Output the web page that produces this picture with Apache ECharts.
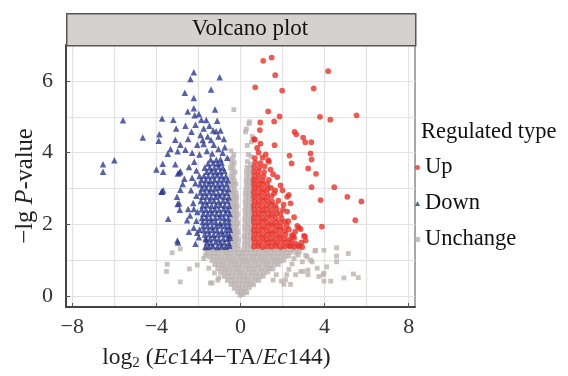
<!DOCTYPE html>
<html>
<head>
<meta charset="utf-8">
<script src="https://cdn.jsdelivr.net/npm/echarts@6/dist/echarts.min.js"></script>
<style>
  html, body { margin: 0; padding: 0; background: #fff; }
  #chart { width: 568px; height: 376px; }
</style>
</head>
<body>
<div id="chart"></div>
<script>
// tick labels
const xTicks = [-8, -4, 0, 4, 8]
const yTicks = [0, 2, 4, 6]
const xGridLines = [-8, -6, -4, -2, 0, 2, 4, 6, 8]
const yGridLines = [0, 1, 2, 3, 4, 5, 6]

// Down-regulated (log2 FC, -lg P)
const downPoints = [
  [-1.52,1.38],[-1.31,1.40],[-1.10,1.37],[-0.90,1.39],[-0.70,1.38],[-0.53,1.41],
  [-1.60,1.50],[-1.40,1.48],[-1.18,1.51],[-0.97,1.49],[-0.77,1.50],[-0.56,1.48],
  [-1.66,1.61],[-1.45,1.60],[-1.24,1.62],[-1.03,1.59],[-0.82,1.61],[-0.61,1.60],[-0.50,1.63],
  [-1.70,1.72],[-1.49,1.73],[-1.28,1.71],[-1.07,1.72],[-0.86,1.74],[-0.66,1.72],[-0.52,1.70],
  [-1.74,1.84],[-1.53,1.83],[-1.32,1.85],[-1.11,1.83],[-0.90,1.82],[-0.69,1.84],[-0.50,1.85],
  [-1.78,1.95],[-1.57,1.96],[-1.36,1.94],[-1.15,1.95],[-0.94,1.97],[-0.73,1.95],[-0.54,1.94],
  [-1.80,2.07],[-1.60,2.06],[-1.39,2.08],[-1.18,2.06],[-0.97,2.05],[-0.76,2.07],[-0.56,2.06],
  [-1.83,2.18],[-1.62,2.19],[-1.41,2.17],[-1.20,2.18],[-0.99,2.20],[-0.78,2.18],[-0.58,2.17],
  [-1.77,2.30],[-1.56,2.29],[-1.35,2.31],[-1.14,2.30],[-0.93,2.29],[-0.72,2.31],[-0.52,2.30],
  [-1.85,2.42],[-1.64,2.41],[-1.43,2.40],[-1.22,2.42],[-1.01,2.41],[-0.80,2.43],[-0.60,2.41],
  [-1.80,2.53],[-1.59,2.54],[-1.38,2.52],[-1.17,2.53],[-0.96,2.55],[-0.75,2.53],[-0.54,2.52],
  [-1.88,2.65],[-1.67,2.64],[-1.46,2.66],[-1.25,2.65],[-1.04,2.64],[-0.83,2.66],[-0.62,2.65],
  [-1.82,2.77],[-1.61,2.78],[-1.40,2.76],[-1.19,2.77],[-0.98,2.79],[-0.77,2.77],[-0.56,2.76],
  [-1.90,2.89],[-1.69,2.88],[-1.48,2.90],[-1.27,2.88],[-1.06,2.87],[-0.85,2.89],[-0.64,2.88],
  [-1.84,3.00],[-1.63,3.01],[-1.42,2.99],[-1.21,3.00],[-1.00,3.02],[-0.79,3.00],[-0.58,2.99],
  [-1.92,3.12],[-1.71,3.11],[-1.50,3.13],[-1.29,3.12],[-1.08,3.11],[-0.87,3.13],[-0.66,3.12],
  [-1.86,3.24],[-1.65,3.23],[-1.44,3.22],[-1.23,3.24],[-1.02,3.23],[-0.81,3.25],[-0.60,3.23],
  [-1.95,3.35],[-1.74,3.36],[-1.53,3.34],[-1.32,3.35],[-1.11,3.37],[-0.90,3.35],[-0.69,3.34],
  [-1.60,3.47],[-1.39,3.48],[-1.18,3.46],[-0.97,3.47],[-0.76,3.49],
  [-1.70,3.58],[-1.46,3.59],[-1.25,3.57],[-1.04,3.60],[-0.84,3.58],
  [-1.55,3.70],[-1.30,3.71],[-1.08,3.69],[-0.90,3.72],
  [-1.42,3.81],[-1.15,3.80],[-0.95,3.82],
  [-6.54,3.68],[-6.54,3.47],[-6.00,3.79],[-5.59,4.90],[-4.65,4.42],
  [-3.73,4.95],[-3.20,4.92],[-3.86,4.51],[-3.89,4.33],[-3.06,4.67],[-3.46,3.97],[-3.33,4.10],[-3.10,4.36],
  [-3.70,3.69],[-4.00,3.53],[-3.68,3.47],[-3.10,3.68],[-3.73,2.91],[-3.68,2.95],[-3.02,2.77],[-2.99,2.57],
  [-2.22,6.24],[-2.38,6.05],[-0.99,6.10],[-1.40,5.76],[-2.65,5.67],[-2.22,5.52],[-2.51,5.15],[-2.22,5.24],
  [-1.98,5.08],[-1.21,5.20],[-2.18,5.04],[-1.86,4.92],[-1.63,4.91],[-1.11,4.89],[-2.14,4.78],[-1.48,4.75],
  [-1.75,4.67],[-1.30,4.62],[-2.62,4.75],[-2.33,4.58],[-0.95,4.62],[-1.16,4.60],[-2.49,4.38],[-1.90,4.49],
  [-1.56,4.45],[-0.79,4.38],[-2.86,4.22],[-2.99,4.04],[-2.62,4.08],[-2.30,4.00],[-2.06,4.22],[-1.75,4.24],
  [-1.27,4.22],[-0.63,3.86],[-2.90,3.45],[-2.98,3.42],[-2.86,3.48],[-2.67,3.27],[-2.75,3.13],[-2.86,2.97],
  [-3.76,2.91],[-2.92,2.59],[-2.49,2.43],[-2.89,2.41],[-2.22,2.43],[-3.44,2.16],[-2.54,2.12],[-2.22,1.91],
  [-2.06,1.77],[-1.98,1.64],[-2.98,1.50],[-2.14,1.46],[-1.67,1.37],[-1.63,1.58],[-3.00,1.55],
  [-1.95,3.95],[-1.60,4.05],[-1.35,3.98],[-1.05,4.10],[-0.85,4.00],[-1.80,4.35],[-1.40,4.35],[-1.05,4.45],
  [-0.75,4.15],[-2.20,3.75],[-2.45,3.60],[-2.10,3.50],[-2.30,3.30],[-2.15,3.15],[-2.35,2.95],[-2.10,2.80],
  [-2.25,2.60],[-2.05,2.35],[-2.40,2.25],[-2.10,2.10],[-1.95,1.85],[-2.45,1.80]
]

// Up-regulated
const upPoints = [
  [0.64,1.38],[0.85,1.40],[1.06,1.37],[1.27,1.39],[1.48,1.38],[1.69,1.40],[1.90,1.37],[2.11,1.39],[2.35,1.40],[2.55,1.38],[2.78,1.39],
  [0.66,1.50],[0.87,1.48],[1.08,1.51],[1.29,1.49],[1.50,1.50],[1.71,1.48],[1.92,1.51],[2.13,1.49],[2.40,1.52],[2.62,1.47],[2.90,1.50],
  [0.63,1.61],[0.84,1.60],[1.05,1.62],[1.26,1.59],[1.47,1.61],[1.68,1.60],[1.89,1.62],[2.10,1.60],[2.32,1.58],[2.55,1.63],
  [0.65,1.72],[0.86,1.73],[1.07,1.71],[1.28,1.72],[1.49,1.74],[1.70,1.72],[1.91,1.71],[2.15,1.73],[2.45,1.70],
  [0.63,1.84],[0.84,1.83],[1.05,1.85],[1.26,1.83],[1.47,1.82],[1.68,1.84],[1.89,1.85],[2.10,1.83],[2.30,1.86],
  [0.66,1.95],[0.87,1.96],[1.08,1.94],[1.29,1.95],[1.50,1.97],[1.71,1.95],[1.92,1.94],[2.20,1.96],
  [0.64,2.07],[0.85,2.06],[1.06,2.08],[1.27,2.06],[1.48,2.05],[1.69,2.07],[1.90,2.06],[2.12,2.08],
  [0.63,2.18],[0.84,2.19],[1.05,2.17],[1.26,2.18],[1.47,2.20],[1.68,2.18],[1.95,2.17],
  [0.66,2.30],[0.87,2.29],[1.08,2.31],[1.29,2.30],[1.50,2.29],[1.71,2.31],[1.90,2.30],
  [0.64,2.42],[0.85,2.41],[1.06,2.40],[1.27,2.42],[1.48,2.41],[1.72,2.43],[2.02,2.41],
  [0.63,2.53],[0.84,2.54],[1.05,2.52],[1.26,2.53],[1.47,2.55],[1.66,2.53],
  [0.66,2.65],[0.87,2.64],[1.08,2.66],[1.29,2.65],[1.50,2.64],[1.80,2.66],
  [0.64,2.77],[0.85,2.78],[1.06,2.76],[1.27,2.77],[1.48,2.79],
  [0.63,2.89],[0.84,2.88],[1.05,2.90],[1.26,2.88],[1.60,2.87],
  [0.66,3.00],[0.87,3.01],[1.08,2.99],[1.30,3.00],[1.45,3.02],
  [0.64,3.12],[0.85,3.11],[1.06,3.13],[1.27,3.12],
  [0.63,3.24],[0.84,3.23],[1.05,3.22],[1.35,3.24],
  [0.66,3.35],[0.87,3.36],[1.10,3.34],
  [0.64,3.47],[0.85,3.48],[1.12,3.46],
  [0.65,3.60],[0.90,3.59],
  [0.70,3.72],[0.95,3.71],
  [0.68,3.85],
  [1.08,6.56],[1.48,6.65],[1.65,6.16],[4.17,6.27],[0.70,5.82],[1.98,5.73],[3.48,5.79],[1.32,5.15],
  [1.86,5.01],[1.60,4.87],[0.94,4.84],[0.92,4.63],[3.78,5.00],[4.27,4.92],[5.52,5.04],[2.57,4.58],
  [2.65,4.51],[2.98,4.42],[3.08,4.29],[3.37,4.29],[0.65,4.38],[1.62,4.21],[0.79,4.13],[0.86,4.00],
  [1.05,3.86],[2.33,3.92],[3.33,3.98],[3.38,3.81],[2.43,3.70],[1.35,3.75],[3.22,3.56],[3.59,3.41],
  [1.43,3.53],[0.68,4.36],[1.32,3.79],[3.38,3.04],[4.46,3.04],[5.08,2.77],[5.75,2.64],[3.81,2.68],
  [5.46,2.12],[3.87,1.94],[2.30,2.82],[2.78,1.91],[3.06,1.67],[3.10,1.55],[2.79,1.41],[2.51,1.68],
  [2.35,1.41],[1.75,3.32],[1.90,3.09],[2.22,2.77],[2.38,2.59],[2.22,2.36],[2.27,2.09],[2.70,1.96],
  [2.86,1.87],[3.02,1.68],[2.94,1.37],[1.55,3.40],[1.20,3.95],[0.95,4.25],[1.15,3.62],[1.65,2.95],
  [2.05,2.55],[2.55,2.20],[2.60,1.80],[2.00,2.95]
]

// Unchanged
const unchangePoints = [
  [-0.02,0.03],[0.12,0.05],
  [-0.14,0.12],[0.04,0.11],[0.20,0.13],[0.30,0.10],
  [-0.30,0.22],[-0.12,0.23],[0.06,0.21],[0.24,0.22],[0.42,0.24],
  [-0.45,0.33],[-0.27,0.34],[-0.08,0.32],[0.10,0.33],[0.29,0.35],[0.47,0.33],[0.62,0.32],
  [-0.62,0.44],[-0.43,0.45],[-0.24,0.43],[-0.05,0.44],[0.14,0.46],[0.33,0.44],[0.52,0.43],[0.70,0.45],[0.86,0.44],
  [-0.78,0.55],[-0.60,0.56],[-0.41,0.54],[-0.22,0.55],[-0.03,0.57],[0.16,0.55],[0.35,0.54],[0.54,0.56],[0.73,0.55],[0.92,0.54],[1.08,0.56],
  [-0.95,0.66],[-0.76,0.67],[-0.57,0.65],[-0.38,0.66],[-0.19,0.68],[0.00,0.66],[0.19,0.65],[0.38,0.67],[0.57,0.66],[0.76,0.65],[0.95,0.67],[1.14,0.66],[1.30,0.68],
  [-1.08,0.77],[-0.89,0.78],[-0.70,0.76],[-0.51,0.77],[-0.32,0.79],[-0.13,0.77],[0.06,0.76],[0.25,0.78],[0.44,0.77],[0.63,0.76],[0.82,0.78],[1.01,0.77],[1.20,0.79],[1.39,0.77],[1.55,0.76],
  [-1.22,0.88],[-1.03,0.89],[-0.84,0.87],[-0.65,0.88],[-0.46,0.90],[-0.27,0.88],[-0.08,0.87],[0.11,0.89],[0.30,0.88],[0.49,0.87],[0.68,0.89],[0.87,0.88],[1.06,0.90],[1.25,0.88],[1.44,0.87],[1.63,0.89],[1.80,0.88],
  [-1.35,0.99],[-1.16,1.00],[-0.97,0.98],[-0.78,0.99],[-0.59,1.01],[-0.40,0.99],[-0.21,0.98],[-0.02,1.00],[0.17,0.99],[0.36,0.98],[0.55,1.00],[0.74,0.99],[0.93,1.01],[1.12,0.99],[1.31,0.98],[1.50,1.00],[1.69,0.99],[1.88,0.98],[2.05,1.00],
  [-1.48,1.10],[-1.29,1.11],[-1.10,1.09],[-0.91,1.10],[-0.72,1.12],[-0.53,1.10],[-0.34,1.09],[-0.15,1.11],[0.04,1.10],[0.23,1.09],[0.42,1.11],[0.61,1.10],[0.80,1.12],[0.99,1.10],[1.18,1.09],[1.37,1.11],[1.56,1.10],[1.75,1.09],[1.94,1.11],[2.12,1.10],[2.30,1.12],
  [-1.60,1.21],[-1.41,1.22],[-1.22,1.20],[-1.03,1.21],[-0.84,1.23],[-0.65,1.21],[-0.46,1.20],[-0.27,1.22],[-0.08,1.21],[0.11,1.20],[0.30,1.22],[0.49,1.21],[0.68,1.20],[0.87,1.22],[1.06,1.21],[1.25,1.20],[1.44,1.22],[1.63,1.21],[1.82,1.20],[2.01,1.22],[2.20,1.21],[2.40,1.23],
  [-1.65,1.31],[-1.46,1.32],[-1.27,1.30],[-1.08,1.31],[-0.89,1.33],[-0.70,1.31],[-0.51,1.30],[-0.32,1.32],[-0.13,1.31],[0.13,1.30],[0.32,1.32],[0.51,1.31],[0.70,1.30],[0.89,1.32],[1.08,1.31],[1.27,1.30],[1.46,1.32],[1.65,1.31],[1.84,1.30],[2.03,1.32],[2.22,1.31],[2.45,1.30],
  [-0.45,1.43],[-0.30,1.44],[-0.14,1.42],[-0.40,1.55],[-0.25,1.54],[-0.10,1.56],[-0.46,1.67],[-0.31,1.66],[-0.16,1.68],
  [-0.41,1.79],[-0.26,1.78],[-0.12,1.80],[-0.45,1.91],[-0.30,1.90],[-0.17,1.92],[-0.40,2.03],[-0.26,2.02],[-0.13,2.04],
  [-0.46,2.15],[-0.31,2.14],[-0.18,2.16],[-0.41,2.27],[-0.27,2.26],[-0.15,2.28],[-0.45,2.39],[-0.31,2.38],[-0.19,2.40],
  [-0.40,2.51],[-0.27,2.50],[-0.16,2.52],[-0.46,2.63],[-0.32,2.62],[-0.20,2.64],[-0.41,2.75],[-0.28,2.74],[-0.18,2.76],
  [-0.45,2.87],[-0.32,2.86],[-0.21,2.88],[-0.40,2.99],[-0.28,2.98],[-0.46,3.11],[-0.33,3.10],[-0.22,3.12],
  [-0.41,3.23],[-0.29,3.22],[-0.45,3.35],[-0.33,3.34],[-0.40,3.47],[-0.26,3.46],[-0.48,3.58],[-0.35,3.59],
  [-0.42,3.70],[-0.30,3.72],[-0.50,3.82],[-0.36,3.85],[-0.32,3.95],[-0.45,4.05],[-0.32,5.20],
  [0.18,1.43],[0.33,1.44],[0.48,1.42],[0.20,1.55],[0.35,1.54],[0.50,1.56],[0.17,1.67],[0.32,1.66],[0.47,1.68],
  [0.21,1.79],[0.36,1.78],[0.51,1.80],[0.19,1.91],[0.34,1.90],[0.49,1.92],[0.22,2.03],[0.37,2.02],[0.52,2.04],
  [0.20,2.15],[0.35,2.14],[0.50,2.16],[0.23,2.27],[0.38,2.26],[0.53,2.28],[0.21,2.39],[0.36,2.38],[0.51,2.40],
  [0.24,2.51],[0.39,2.50],[0.54,2.52],[0.22,2.63],[0.37,2.62],[0.52,2.64],[0.25,2.75],[0.40,2.74],[0.55,2.76],
  [0.23,2.87],[0.38,2.86],[0.53,2.88],[0.26,2.99],[0.41,2.98],[0.56,3.00],[0.28,3.11],[0.43,3.10],[0.57,3.12],
  [0.27,3.23],[0.42,3.22],[0.56,3.24],[0.30,3.35],[0.45,3.34],[0.28,3.47],[0.43,3.46],[0.31,3.59],[0.46,3.58],
  [0.48,3.68],[0.33,3.75],[0.37,3.95],[0.50,3.90],[0.32,4.20],[0.56,4.45],[0.52,4.30],[0.24,4.58],[0.28,4.66],
  [0.40,4.81],[0.43,4.86],
  [-3.25,1.21],[-3.49,0.89],[-3.52,0.69],[-2.86,1.32],[-2.43,0.76],[-2.06,0.87],[-2.86,0.40],[-1.35,0.37],
  [-1.24,0.65],[-1.08,0.45],[-1.43,0.37],[-1.03,0.51],[-1.67,1.14],[-1.75,1.05],[-1.51,0.78],
  [4.57,1.35],[3.97,1.28],[3.54,1.26],[5.13,1.19],[4.57,1.12],[4.57,0.96],[4.10,0.82],[3.73,0.55],
  [4.29,0.42],[4.92,0.51],[5.37,0.62],[5.60,0.52],[2.86,0.69],[3.21,0.73],[3.21,0.60],[2.98,0.69],
  [1.94,0.42],[3.65,0.78],[3.94,0.60],[2.94,0.96],[3.33,1.01],[3.10,1.14],[3.57,1.28],[3.17,1.10],
  [3.41,0.96],[2.62,0.60],[2.14,0.46],[2.38,0.33],[2.06,0.33],[3.97,0.64],[3.97,0.42],
  [2.55,1.05],[2.45,0.90],[2.65,1.20],[2.30,0.75],[2.75,1.15],[2.20,0.60],[2.60,1.32],[2.80,1.25],
  [1.70,0.60],[1.55,0.45]
]

const serif = '"Liberation Serif", "DejaVu Serif", serif'
const minus = v => (v < 0 ? '\u2212' + Math.abs(v) : String(v))

const chart = echarts.init(document.getElementById('chart'))

chart.setOption({
  animation: false,
  backgroundColor: '#fff',
  grid: { left: 66, right: 153, top: 45, bottom: 63, show: true, borderColor: '#8c8c8c', borderWidth: 1.5 },
  graphic: [
    { type: 'rect', left: 66, top: 13, shape: { width: 349, height: 32 }, style: { fill: '#d5d1d0', stroke: '#555', lineWidth: 1.5 }, z: 10 },
    { type: 'text', x: 250, y: 29, style: { text: 'Volcano plot', font: '23px ' + serif, fill: '#111', align: 'center', verticalAlign: 'middle' }, z: 11 },
    { type: 'text', x: 421, y: 132, style: { text: 'Regulated type', font: '22.5px ' + serif, fill: '#111', align: 'left', verticalAlign: 'middle' } }
  ],
  legend: {
    orient: 'vertical',
    left: 415,
    top: 156,
    padding: 0,
    itemWidth: 5,
    itemHeight: 5,
    itemGap: 13,
    textStyle: { fontFamily: serif, fontSize: 22.5, color: '#111', lineHeight: 22 },
    data: [
      { name: 'Up', icon: 'circle' },
      { name: 'Down', icon: 'triangle' },
      { name: 'Unchange', icon: 'rect' }
    ]
  },
  xAxis: {
    type: 'value',
    min: -8.3,
    max: 8.3,
    name: '{a|log}{s|2}{a| (}{i|Ec}{a|144\u2212TA/}{i|Ec}{a|144)}',
    nameLocation: 'middle',
    nameGap: 38,
    nameMoveOverlap: false,
    nameTextStyle: {
      padding: [0, 48, 0, 0],
      rich: {
        a: { fontFamily: serif, fontSize: 23.5, color: '#222' },
        i: { fontFamily: serif, fontSize: 23.5, fontStyle: 'italic', color: '#222' },
        s: { fontFamily: serif, fontSize: 15, color: '#222', padding: [11, 0, 0, 0] }
      }
    },
    axisLine: { show: true, onZero: false, lineStyle: { color: '#444', width: 2 } },
    axisTick: { show: true, inside: true, length: 4, customValues: xTicks, lineStyle: { color: '#555' } },
    axisLabel: { customValues: xTicks, formatter: minus, fontFamily: serif, fontSize: 22, color: '#333', margin: 9 },
    splitLine: { show: false }
  },
  yAxis: {
    type: 'value',
    min: -0.3,
    max: 7.0,
    name: '{a|\u2212lg }{i|P}{a|-value}',
    nameLocation: 'middle',
    nameRotate: 90,
    nameGap: 28,
    nameMoveOverlap: false,
    nameTextStyle: {
      padding: [0, 20, 0, 0],
      rich: {
        a: { fontFamily: serif, fontSize: 24.5, color: '#222' },
        i: { fontFamily: serif, fontSize: 24.5, fontStyle: 'italic', color: '#222' }
      }
    },
    axisLine: { show: true, onZero: false, lineStyle: { color: '#444', width: 2 } },
    axisTick: { show: true, inside: true, length: 4, customValues: yTicks, lineStyle: { color: '#555' } },
    axisLabel: { customValues: yTicks, formatter: minus, fontFamily: serif, fontSize: 22, color: '#333', margin: 13 },
    splitLine: { show: false }
  },
  series: [
    {
      name: 'grid',
      type: 'scatter',
      data: [],
      silent: true,
      z: 0,
      markLine: {
        silent: true,
        z: 0,
        symbol: 'none',
        label: { show: false },
        animation: false,
        lineStyle: { color: '#e2e2e2', width: 1.2, type: 'solid' },
        data: xGridLines.map(v => ({ xAxis: v })).concat(yGridLines.map(v => ({ yAxis: v })))
      }
    },
    {
      name: 'Unchange',
      type: 'scatter',
      data: unchangePoints,
      symbol: 'rect',
      symbolSize: 4.8,
      itemStyle: { color: '#bab2b0' },
      z: 2
    },
    {
      name: 'Down',
      type: 'scatter',
      data: downPoints,
      symbol: 'triangle',
      symbolSize: 6.5,
      itemStyle: { color: '#2d3a8e' },
      z: 3
    },
    {
      name: 'Up',
      type: 'scatter',
      data: upPoints,
      symbol: 'circle',
      symbolSize: 5.8,
      itemStyle: { color: '#e6332a' },
      z: 3
    }
  ]
})
</script>
</body>
</html>
